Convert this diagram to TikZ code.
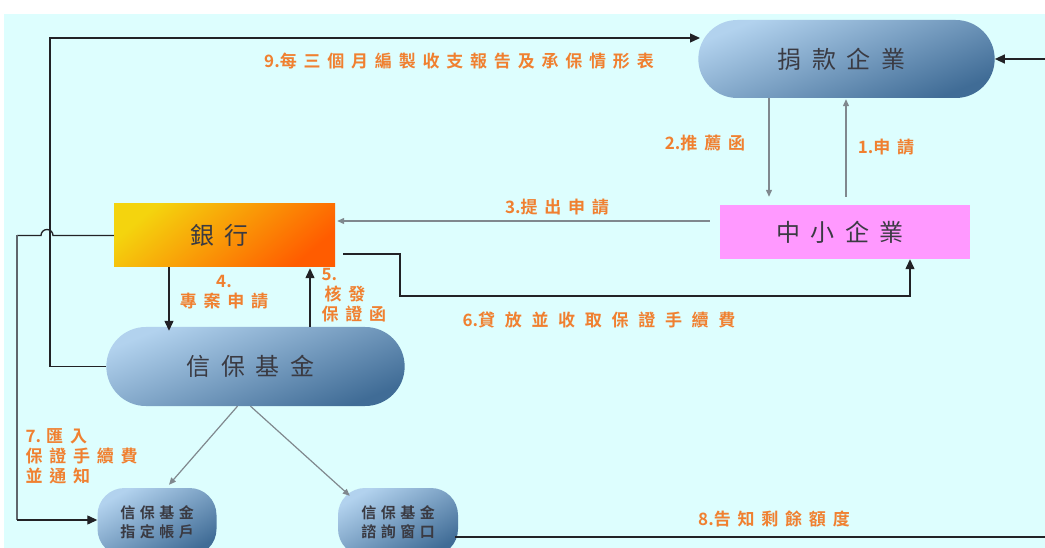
\documentclass[tikz,border=0pt]{standalone}
\usepackage{fontspec}
\usetikzlibrary{arrows.meta,shapes.misc}
\newfontfamily\cjkbig[LetterSpace=44]{Noto Sans CJK TC}
\newfontfamily\cjklbl[LetterSpace=40,BoldFont={Noto Sans CJK TC Bold}]{Noto Sans CJK TC}
\newfontfamily\cjklbln[BoldFont={Noto Sans CJK TC Bold}]{Noto Sans CJK TC}
\newfontfamily\cjklblw[LetterSpace=57,BoldFont={Noto Sans CJK TC Bold}]{Noto Sans CJK TC}
\newfontfamily\cjksmall[LetterSpace=30,BoldFont={Noto Sans CJK TC Bold}]{Noto Sans CJK TC}
\newcommand{\numpre}[1]{{\cjklbln\bfseries #1}}
\definecolor{bgc}{RGB}{221,254,254}
\definecolor{pillA}{RGB}{178,210,238}
\definecolor{pillB}{RGB}{64,108,150}
\definecolor{bankA}{RGB}{244,212,14}
\definecolor{bankB}{RGB}{255,92,0}
\definecolor{pinkc}{RGB}{255,153,255}
\definecolor{txtc}{RGB}{58,58,66}
\definecolor{orangec}{RGB}{240,128,48}
\definecolor{linec}{RGB}{34,34,38}
\definecolor{grayc}{RGB}{128,136,142}
\definecolor{midgray}{RGB}{95,102,108}
\tikzset{
  bigtext/.style={text=txtc, font=\cjkbig\fontsize{24}{28}\selectfont, execute at end node={\hspace{10pt}}},
  pill/.style={rounded rectangle, top color=pillA, bottom color=pillB, shading angle=22, bigtext},
  bankbox/.style={rectangle, top color=bankA, bottom color=bankB, shading angle=40, bigtext},
  pinkbox/.style={rectangle, fill=pinkc, bigtext},
  smallpill/.style={rectangle, rounded corners=27pt, top color=pillA, bottom color=pillB, shading angle=30,
    text=txtc, align=center, font=\cjksmall\bfseries\fontsize{15}{19}\selectfont},
  lbl/.style={text=orangec, font=\cjklbl\bfseries\fontsize{17}{20}\selectfont},
  lblw/.style={text=orangec, font=\cjklblw\bfseries\fontsize{17}{20}\selectfont},
  blk/.style={draw=linec, line width=1.3pt},
  blkarrow/.style={blk, -{Triangle[length=10pt,width=9pt]}},
  gryarrow/.style={draw=grayc, line width=1.2pt, -{Triangle[length=7pt,width=6pt]}}
}
\begin{document}
\begin{tikzpicture}[x=1pt,y=-1pt]
\useasboundingbox (0,0) rectangle (1045,548);
\fill[white] (0,0) rectangle (1045,548);
\fill[bgc] (4,14) rectangle (1045,548);

% nodes
\node[pill, minimum width=303pt, minimum height=78pt] (jk) at (846.5,59) {捐款企業};
\node[bankbox, minimum width=221pt, minimum height=63pt] (yh) at (224.5,235.5) {銀行};
\node[pinkbox, minimum width=250pt, minimum height=54pt] (zs) at (845,232) {中小企業};
\node[pill, minimum width=305pt, minimum height=79pt] (xb) at (255.5,366.5) {信保基金};
\node[smallpill, minimum width=119pt, minimum height=68pt] (zd) at (157,522) {信保基金\hspace{6pt}\\指定帳戶\hspace{6pt}};
\node[smallpill, minimum width=120pt, minimum height=68pt] (zx) at (398,522) {信保基金\hspace{6pt}\\諮詢窗口\hspace{6pt}};

\coordinate (j9) at (700,38);
\coordinate (rt) at (1050,59);
\coordinate (r8) at (1050,537);

% connectors
\draw[blkarrow] (rt) -- (jk.east);
\draw[blkarrow] (xb.west) -- ++(-56pt,0pt) |- (j9);
\draw[gryarrow] ([xshift=-77.5pt]jk.south) -- ([xshift=-76pt,yshift=8pt]zs.north);
\draw[gryarrow] ([xshift=1pt,yshift=8pt]zs.north) -- ([xshift=-0.5pt,yshift=-1pt]jk.south);
\draw[gryarrow] ([xshift=-10pt,yshift=11pt]zs.west) -- ([xshift=2pt,yshift=14.5pt]yh.east);
\draw[blkarrow] ([xshift=8pt,yshift=-18.5pt]yh.east) -| (400,296) -| ([xshift=65pt]zs.south);
\draw[blkarrow] ([xshift=-55.5pt]yh.south) -- ([xshift=-86.5pt,yshift=-4pt]xb.north);
\draw[blkarrow] ([xshift=54.5pt]xb.north) -- ([xshift=85.5pt,yshift=-1pt]yh.south);
\draw[blk] (yh.west) -- (53,235.5) arc[start angle=0,end angle=180,radius=6pt] -- (17,235.5) coordinate (h7);
\draw[draw=midgray, line width=1.3pt] (h7) -- (17,520) coordinate (c7);
\draw[blkarrow] (c7) -- ([yshift=2pt]zd.west);
\draw[gryarrow] ([xshift=-18pt]xb.south) -- ([xshift=12pt,yshift=3pt]zd.north);
\draw[gryarrow] ([xshift=-5pt]xb.south) -- ([xshift=12pt,yshift=-8pt]zx.north west);
\draw[blk] ([xshift=-3pt,yshift=-15pt]zx.east) -- (r8);

% labels
\node[lbl] (l9) at (459,61) {\numpre{9.}每三個月編製收支報告及承保情形表};
\node[lbl] (l2) at (705,143) {\numpre{2.}推薦函};
\node[lbl] (l1) at (886,147) {\numpre{1.}申請};
\node[lbl] (l3) at (557,207) {\numpre{3.}提出申請};
\node[lbl, align=center] (l4) at (224,292) {\numpre{4.}\\專案申請};
\node[lbl, align=left, anchor=north west] (l5) at (318,265) {\numpre{5.}\\\hspace{3pt}核發\\保證函};
\node[lblw] (l6) at (599,320) {\numpre{6.}貸放並收取保證手續費};
\node[lbl, align=left, anchor=north west] (l7) at (22,425) {\numpre{7. }匯入\\保證手續費\\並通知};
\node[lbl] (l8) at (774,519) {\numpre{8.}告知剩餘額度};
\end{tikzpicture}
\end{document}
